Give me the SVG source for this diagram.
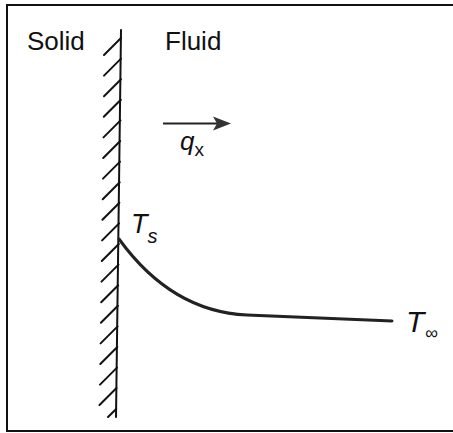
<svg xmlns="http://www.w3.org/2000/svg" width="453" height="433" viewBox="0 0 453 433">
<style>
.frame{fill:none;stroke:#111;stroke-width:2}
.wall{fill:none;stroke:#111;stroke-width:2;stroke-linecap:round}
.hatch{fill:none;stroke:#111;stroke-width:2;stroke-linecap:round}
.curve{fill:none;stroke:#222;stroke-width:3;stroke-linecap:round}
.lbl{font-family:"Liberation Sans",Arial,sans-serif;font-size:26px;fill:#111}
.sym{font-family:"Liberation Sans",Arial,sans-serif;font-style:italic;fill:#111}
</style>
<rect width="453" height="433" fill="#fff"/>
<path class="frame" d="M460,5 H7 V431 H460"/>
<g id="wall">
<path class="wall" d="M121,30 L116,417"/>
<g>
<line class="hatch" x1="104" y1="55" x2="121" y2="38"/>
<line class="hatch" x1="104" y1="75.6" x2="121" y2="58.6"/>
<line class="hatch" x1="104" y1="96.2" x2="121" y2="79.2"/>
<line class="hatch" x1="103.8" y1="116.8" x2="120.8" y2="99.8"/>
<line class="hatch" x1="103.5" y1="137.4" x2="120.5" y2="120.4"/>
<line class="hatch" x1="103.2" y1="158" x2="120.2" y2="141"/>
<line class="hatch" x1="103" y1="178.6" x2="120" y2="161.6"/>
<line class="hatch" x1="102.7" y1="199.2" x2="119.7" y2="182.2"/>
<line class="hatch" x1="102.4" y1="219.8" x2="119.4" y2="202.8"/>
<line class="hatch" x1="102.1" y1="240.4" x2="119.1" y2="223.4"/>
<line class="hatch" x1="101.8" y1="261" x2="118.8" y2="244"/>
<line class="hatch" x1="101.5" y1="281.6" x2="118.5" y2="264.6"/>
<line class="hatch" x1="101.2" y1="302.2" x2="118.2" y2="285.2"/>
<line class="hatch" x1="100.9" y1="322.8" x2="117.9" y2="305.8"/>
<line class="hatch" x1="100.6" y1="343.4" x2="117.6" y2="326.4"/>
<line class="hatch" x1="100.3" y1="364" x2="117.3" y2="347"/>
<line class="hatch" x1="100" y1="384.6" x2="117" y2="367.6"/>
<line class="hatch" x1="99.5" y1="405" x2="116.5" y2="388"/>
<line class="hatch" x1="108" y1="417" x2="116.2" y2="409"/>
</g>
</g>
<g id="solid"><text class="lbl" x="27" y="50">Solid</text></g>
<g id="fluid"><text class="lbl" x="165" y="50">Fluid</text></g>
<g id="connectors">
<line x1="163" y1="123.5" x2="218" y2="123.5" stroke="#222" stroke-width="2"/>
<polygon points="231,123.5 213,116.5 217,123.5 213,130.5" fill="#333"/>
<path class="curve" d="M119,239 C140,268 180,312 247,315 L392,321"/>
</g>
<g id="qx"><text class="sym" x="180" y="150" font-size="26">q<tspan font-size="19" font-style="normal" dy="6">x</tspan></text></g>
<g id="Ts"><text class="sym" x="131" y="233" font-size="27">T<tspan font-size="20" dy="10">s</tspan></text></g>
<g id="Tinf"><text class="sym" x="406" y="332" font-size="30">T</text><text class="sym" x="425" y="339" font-size="18" font-style="normal">∞</text></g>
</svg>
